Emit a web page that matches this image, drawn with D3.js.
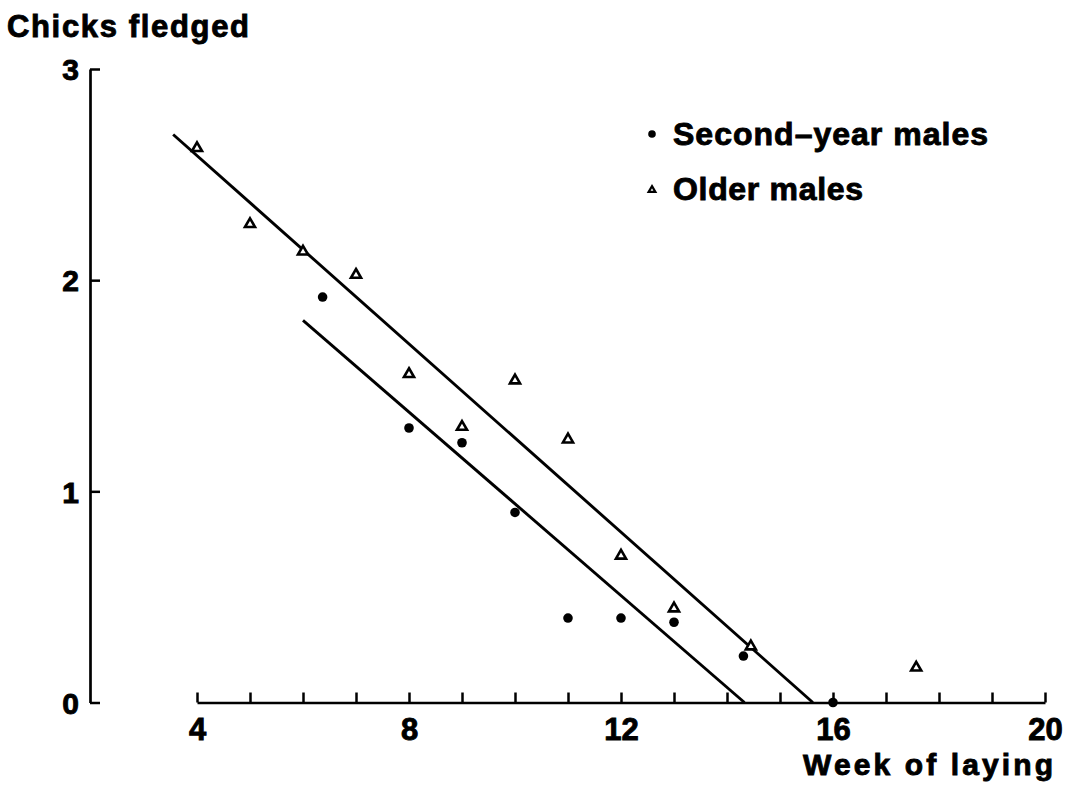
<!DOCTYPE html>
<html>
<head>
<meta charset="utf-8">
<script src="https://cdn.jsdelivr.net/npm/d3@7"></script>
<style>
  html, body { margin: 0; padding: 0; background: #fff; }
  svg { display: block; }
  text { font-family: "Liberation Sans", Arial, Helvetica, sans-serif; font-weight: bold; fill: #000; stroke: #000; stroke-width: 0.9px; }
</style>
</head>
<body>
<svg id="chart" width="1073" height="790"></svg>
<script>
// Chicks fledged per pair by week of laying, split by male age
const olderWeek   = [4, 5, 6, 7, 8, 9, 10, 11, 12, 13, 14.45, 17.57];
const olderChicks = [2.63, 2.27, 2.14, 2.03, 1.56, 1.31, 1.53, 1.25, 0.70, 0.45, 0.27, 0.17];

const secondWeek   = [6.37, 8, 9, 10, 11, 12, 13, 14.31, 16];
const secondChicks = [1.92, 1.30, 1.23, 0.90, 0.40, 0.40, 0.38, 0.22, 0];

// Fitted regression lines (start and end of each)
const olderFitWeek    = [3.55, 15.62];
const olderFitChicks  = [2.69, 0];
const secondFitWeek   = [6, 14.33];
const secondFitChicks = [1.81, 0];

const xTicks = [4, 5, 6, 7, 8, 9, 10, 11, 12, 13, 14, 15, 16, 17, 18, 19, 20];
const xTickLabels = [4, 8, 12, 16, 20];
const yTicks = [0, 1, 2, 3];

const legendLabels = ["Second\u2013year males", "Older males"];

const svg = d3.select("#chart");

const x = d3.scaleLinear().domain([4, 20]).range([197, 1045]);
const y = d3.scaleLinear().domain([0, 3]).range([702.5, 69]);

// Y axis: ticks point inward, labels on the left
const yAxis = d3.axisLeft(y)
  .tickValues(yTicks)
  .tickFormat(d3.format("d"))
  .tickSizeInner(-10)
  .tickSizeOuter(0)
  .tickPadding(11);

const gy = svg.append("g").attr("transform", "translate(90,0)").call(yAxis);
gy.select(".domain").attr("stroke", "#000").attr("stroke-width", 2.7);
gy.selectAll(".tick line").attr("stroke", "#000").attr("stroke-width", 2.5);
gy.selectAll(".tick text")
  .attr("font-size", 30)
  .attr("font-family", "Liberation Sans, Arial, sans-serif")
  .attr("font-weight", "bold")
  .attr("dy", "0.36em");

// X axis: a tick every week, labels every fourth week
const xAxis = d3.axisBottom(x)
  .tickValues(xTicks)
  .tickFormat(d => xTickLabels.includes(d) ? d : "")
  .tickSizeInner(-10)
  .tickSizeOuter(0)
  .tickPadding(15);

const gx = svg.append("g").attr("transform", `translate(0,${y(0)})`).call(xAxis);
gx.select(".domain").attr("stroke", "#000").attr("stroke-width", 2.7);
gx.selectAll(".tick line").attr("stroke", "#000").attr("stroke-width", 2.5);
gx.selectAll(".tick text")
  .attr("font-size", 31)
  .attr("font-family", "Liberation Sans, Arial, sans-serif")
  .attr("font-weight", "bold");

// Axis titles
svg.append("text")
  .attr("x", 7).attr("y", 36.5)
  .attr("font-size", 31)
  .attr("textLength", 242).attr("lengthAdjust", "spacing")
  .text("Chicks fledged");

svg.append("text")
  .attr("x", 803).attr("y", 775)
  .attr("font-size", 30)
  .attr("textLength", 250).attr("lengthAdjust", "spacing")
  .text("Week of laying");

// Regression lines
const line = d3.line().x(d => x(d[0])).y(d => y(d[1]));
const fits = [
  d3.zip(olderFitWeek, olderFitChicks),
  d3.zip(secondFitWeek, secondFitChicks)
];
svg.append("g").selectAll("path")
  .data(fits)
  .join("path")
  .attr("d", line)
  .attr("fill", "none")
  .attr("stroke", "#000")
  .attr("stroke-width", 2.9);

// Older males: open triangles
const tri = d3.symbol(d3.symbolTriangle, 44);
svg.append("g").selectAll("path")
  .data(d3.zip(olderWeek, olderChicks))
  .join("path")
  .attr("d", tri)
  .attr("transform", d => `translate(${x(d[0])},${y(d[1]) + 1})`)
  .attr("fill", "#fff")
  .attr("stroke", "#000")
  .attr("stroke-width", 2.6);

// Second-year males: filled dots
svg.append("g").selectAll("circle")
  .data(d3.zip(secondWeek, secondChicks))
  .join("circle")
  .attr("cx", d => x(d[0]))
  .attr("cy", d => y(d[1]))
  .attr("r", 4.8)
  .attr("fill", "#000");

// Legend
const legend = svg.append("g");
legend.append("circle").attr("cx", 652).attr("cy", 134).attr("r", 3.8).attr("fill", "#000");
legend.append("path")
  .attr("d", d3.symbol(d3.symbolTriangle, 20)())
  .attr("transform", "translate(652,190)")
  .attr("fill", "#fff").attr("stroke", "#000").attr("stroke-width", 2.2);
legend.append("text")
  .attr("x", 673).attr("y", 145)
  .attr("font-size", 32)
  .attr("textLength", 315).attr("lengthAdjust", "spacing")
  .text(legendLabels[0]);
legend.append("text")
  .attr("x", 673).attr("y", 200)
  .attr("font-size", 32)
  .attr("textLength", 190).attr("lengthAdjust", "spacing")
  .text(legendLabels[1]);
</script>
</body>
</html>
